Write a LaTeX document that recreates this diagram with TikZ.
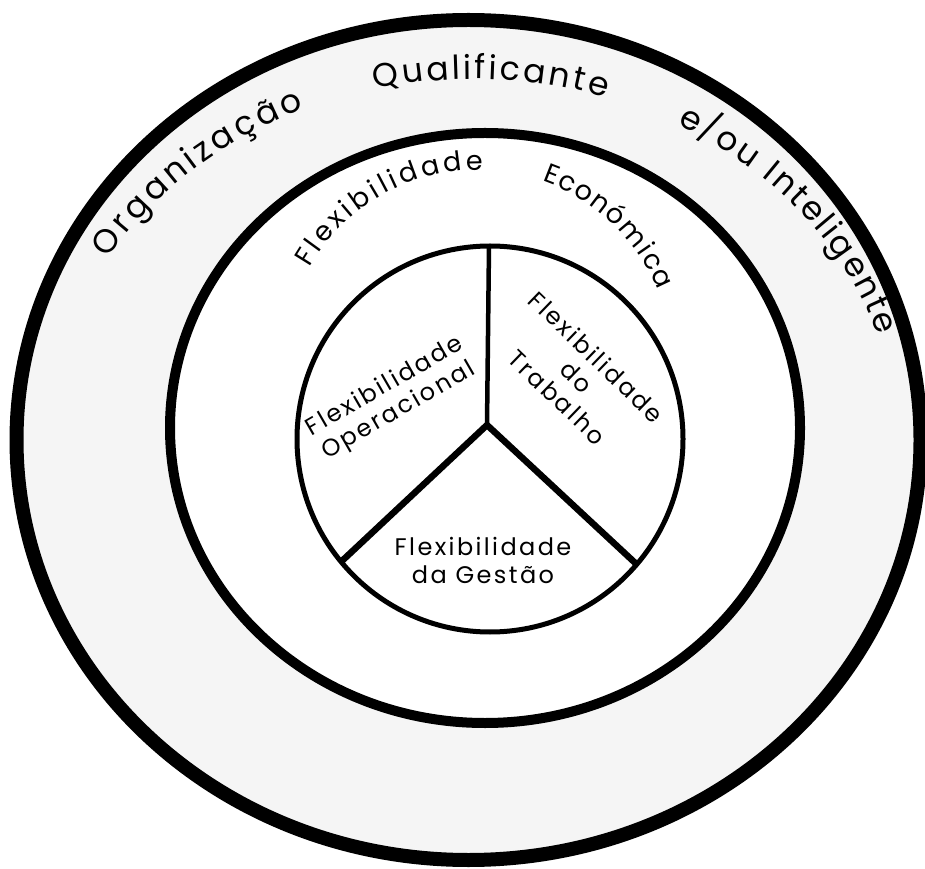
\documentclass[tikz,border=0pt]{standalone}
\usepackage{fontspec}
\usetikzlibrary{decorations.text}
\setmainfont{Poppins}
\newfontfamily\ringfont{Poppins}
\newfontfamily\innerfont[LetterSpace=10]{Poppins}

\tikzset{
  ringline/.style={draw=black, line width=#1},
  spokeline/.style={draw=black, line width=#1, line cap=butt},
  arctext/.style={decorate, decoration={text along path, text align=fit to path, text={#1}}},
  blocktext/.style={align=center, inner sep=0pt, font=\fontsize{24}{28}\selectfont\innerfont},
}

\begin{document}
\begin{tikzpicture}[x=1pt, y=1pt]
  \useasboundingbox (0,0) rectangle (925,868);
  \fill[white] (0,0) rectangle (925,868);

  % centres of the three rings and of the two lettering arcs
  \coordinate (oc) at (468.5,428);
  \coordinate (mc) at (485,440);
  \coordinate (ic) at (490,429);
  \coordinate (otc) at (473,426);
  \coordinate (mtc) at (478,503);

  % shaded outer band
  \fill[black!4, even odd rule]
    (oc) ellipse [x radius=452pt, y radius=420pt]
    (mc) ellipse [x radius=315pt, y radius=295pt];

  % rings
  \draw[ringline=14pt] (oc) ellipse [x radius=452pt, y radius=420pt];
  \draw[ringline=10pt] (mc) ellipse [x radius=315pt, y radius=295pt];
  \draw[ringline=5pt] (ic) circle [radius=193pt];

  % spokes of the inner circle
  \coordinate (hub) at (487,443);
  \coordinate (stop) at ([shift={(90.3:193pt)}]ic);
  \coordinate (sleft) at ([shift={(219.5:193pt)}]ic);
  \coordinate (sright) at ([shift={(319.5:192pt)}]ic);
  \draw[spokeline=4.5pt] (hub) -- (stop);
  \draw[spokeline=6.5pt] (hub) -- (sleft);
  \draw[spokeline=6.5pt] (hub) -- (sright);

  % lettering of the outer band
  \path[arctext={|\fontsize{33}{33}\selectfont\ringfont|Organização}]
    ([shift={(149.6:423pt and 363pt)}]otc)
    arc [start angle=149.6, end angle=113.5, x radius=423pt, y radius=363pt];
  \path[arctext={|\fontsize{33}{33}\selectfont\ringfont|Qualificante}]
    ([shift={(103.4:423pt and 363pt)}]otc)
    arc [start angle=103.4, end angle=71.7, x radius=423pt, y radius=363pt];
  \path[arctext={|\fontsize{33}{33}\selectfont\ringfont|e/ou Inteligente}]
    ([shift={(61.1:423pt and 363pt)}]otc)
    arc [start angle=61.1, end angle=17.0, x radius=423pt, y radius=363pt];

  % lettering inside the middle ring
  \path[arctext={|\fontsize{27}{27}\selectfont\ringfont|Flexibilidade}]
    ([shift={(150:195pt)}]mtc)
    arc [start angle=150, end angle=88.6, radius=195pt];
  \path[arctext={|\fontsize{27}{27}\selectfont\ringfont|Económica}]
    ([shift={(70.8:195pt)}]mtc)
    arc [start angle=70.8, end angle=22.6, radius=195pt];

  % the three sectors
  \node[blocktext, rotate=30] (oper) at (392,469) {Flexibilidade\\Operacional};
  \node[blocktext, rotate=-44] (trab) at (577,491) {Flexibilidade\\do\\Trabalho};
  \node[blocktext] (gest) at (483,308) {Flexibilidade\\da Gestão};
\end{tikzpicture}
\end{document}
